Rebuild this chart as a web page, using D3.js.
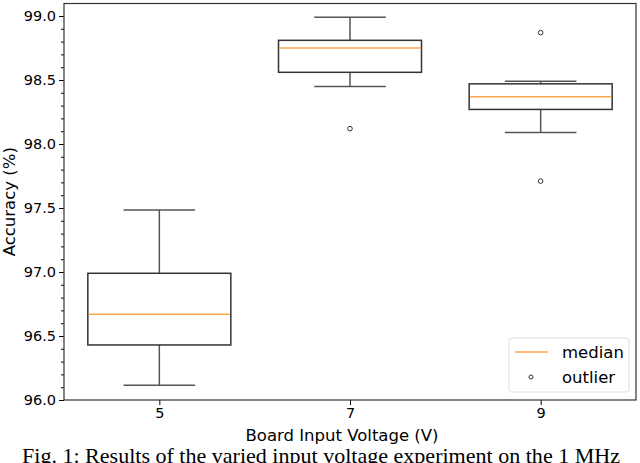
<!DOCTYPE html>
<html lang="en">
<head>
    <meta charset="utf-8">
    <script src="https://d3js.org/d3.v7.min.js"></script>
    <title>boxplot</title>
    <style>
        body {margin: 0; background: #fff;}
        svg {display: block;}
        .tick text {font-family: "DejaVu Sans", sans-serif; font-size: 14.5px; fill: #000;}
        .label {font-family: "DejaVu Sans", sans-serif; font-size: 16.5px; fill: #000;}
        .caption {font-family: "Liberation Serif", "Times New Roman", serif; font-size: 21px; fill: #000;}
    </style>
</head>
<body>
<svg width="640" height="463"></svg>

<script>
    // voltages (V) and the box statistics (accuracy %)
    var voltages = [5, 7, 9];
    var whiskerLow = [96.115, 98.45, 98.09];
    var q1 = [96.43, 98.56, 98.27];
    var median = [96.67, 98.75, 98.37];
    var q3 = [96.99, 98.81, 98.47];
    var whiskerHigh = [97.485, 98.99, 98.49];
    var outliers = [[], [98.12], [98.87, 97.71]];
    var yTicks = [96.0, 96.5, 97.0, 97.5, 98.0, 98.5, 99.0];

    var svg = d3.select('svg');
    var pl = 64, pr = 636, pt = 3.5, pb = 400;

    var x = d3.scaleLinear().domain([4, 10]).range([pl, pr]);
    var y = d3.scaleLinear().domain([96, 96 + (pb - pt) / 128]).range([pb, pt]);

    // box is 1.5 units wide, caps half of that
    var boxW = x(5.5) - x(4), capW = x(4.75) - x(4);

    // axes
    var yAxis = d3.axisLeft(y).tickValues(yTicks).tickFormat(d3.format('.1f')).tickSize(5).tickPadding(3);
    svg.append('g').attr('transform', 'translate(' + pl + ',0)').call(yAxis);
    var minor = d3.range(96.1, 99.05, 0.1).filter(v => Math.abs(v * 2 - Math.round(v * 2)) > 0.01);
    svg.append('g').attr('transform', 'translate(' + pl + ',0)')
        .call(d3.axisLeft(y).tickValues(minor).tickSize(3).tickFormat(''));

    var xAxis = d3.axisBottom(x).tickValues(voltages).tickFormat(d3.format('d')).tickSize(5).tickPadding(3);
    svg.append('g').attr('transform', 'translate(0,' + pb + ')').call(xAxis);

    svg.selectAll('.domain').remove();
    svg.selectAll('.tick line').attr('stroke', '#000').attr('stroke-width', 1);

    // frame
    svg.append('rect').attr('x', pl).attr('y', pt).attr('width', pr - pl).attr('height', pb - pt)
        .attr('fill', 'none').attr('stroke', '#333').attr('stroke-width', 1.2);

    // boxes
    var g = svg.selectAll('.box').data(voltages).enter().append('g').attr('class', 'box');
    g.append('line').attr('x1', d => x(d)).attr('x2', d => x(d))
        .attr('y1', (d, i) => y(whiskerHigh[i])).attr('y2', (d, i) => y(q3[i]))
        .attr('stroke', '#555').attr('stroke-width', 1.5);
    g.append('line').attr('x1', d => x(d)).attr('x2', d => x(d))
        .attr('y1', (d, i) => y(whiskerLow[i])).attr('y2', (d, i) => y(q1[i]))
        .attr('stroke', '#555').attr('stroke-width', 1.5);
    g.append('line').attr('x1', d => x(d) - capW / 2).attr('x2', d => x(d) + capW / 2)
        .attr('y1', (d, i) => y(whiskerHigh[i])).attr('y2', (d, i) => y(whiskerHigh[i]))
        .attr('stroke', '#555').attr('stroke-width', 1.5);
    g.append('line').attr('x1', d => x(d) - capW / 2).attr('x2', d => x(d) + capW / 2)
        .attr('y1', (d, i) => y(whiskerLow[i])).attr('y2', (d, i) => y(whiskerLow[i]))
        .attr('stroke', '#555').attr('stroke-width', 1.5);
    g.append('rect').attr('x', d => x(d) - boxW / 2).attr('width', boxW)
        .attr('y', (d, i) => y(q3[i])).attr('height', (d, i) => y(q1[i]) - y(q3[i]))
        .attr('fill', 'none').attr('stroke', '#333').attr('stroke-width', 1.5);
    g.append('line').attr('x1', d => x(d) - boxW / 2 + 1).attr('x2', d => x(d) + boxW / 2 - 1)
        .attr('y1', (d, i) => y(median[i])).attr('y2', (d, i) => y(median[i]))
        .attr('stroke', '#ffa64d').attr('stroke-width', 1.5);
    g.each(function(d, i) {
        d3.select(this).selectAll('circle').data(outliers[i]).enter().append('circle')
            .attr('cx', x(d)).attr('cy', v => y(v)).attr('r', 2.3)
            .attr('fill', 'none').attr('stroke', '#333').attr('stroke-width', 1);
    });

    // legend
    var lg = svg.append('g');
    lg.append('rect').attr('x', 509).attr('y', 338).attr('width', 120).attr('height', 54).attr('rx', 3)
        .attr('fill', '#fff').attr('stroke', '#ddd').attr('stroke-width', 1);
    lg.append('line').attr('x1', 515).attr('x2', 548).attr('y1', 352).attr('y2', 352)
        .attr('stroke', '#ffa64d').attr('stroke-width', 1.5);
    lg.append('circle').attr('cx', 531).attr('cy', 377).attr('r', 2).attr('fill', 'none')
        .attr('stroke', '#333').attr('stroke-width', 1);
    lg.append('text').attr('class', 'label').attr('x', 562).attr('y', 357.5).text('median');
    lg.append('text').attr('class', 'label').attr('x', 562).attr('y', 382.5).text('outlier');

    // labels
    svg.append('text').attr('class', 'label').attr('x', 342).attr('y', 440.5)
        .attr('text-anchor', 'middle').text('Board Input Voltage (V)');
    svg.append('text').attr('class', 'label').attr('transform', 'translate(15,' + (pt + pb) / 2 + ') rotate(-90)')
        .attr('text-anchor', 'middle').text('Accuracy (%)');
    svg.append('text').attr('class', 'caption').attr('x', 22).attr('y', 463)
        .attr('textLength', 598).attr('lengthAdjust', 'spacingAndGlyphs')
        .text('Fig. 1: Results of the varied  input voltage experiment on the 1 MHz');
</script>
</body>
</html>
